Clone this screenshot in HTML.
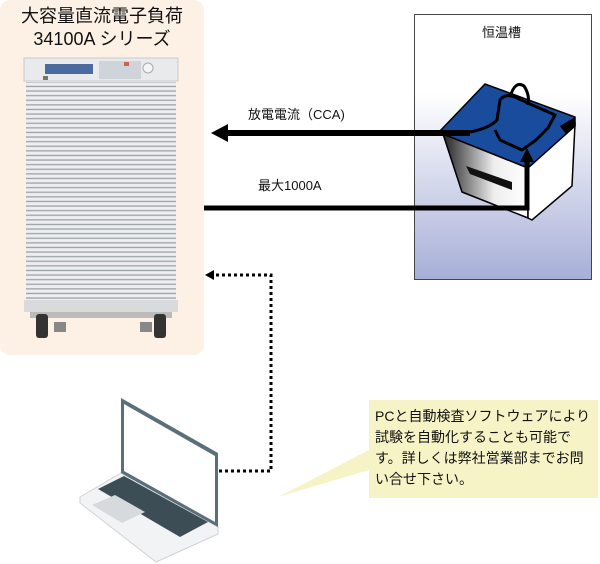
<!DOCTYPE html>
<html><head><meta charset="utf-8"><style>
html,body{margin:0;padding:0;background:#fff;}
body{width:600px;height:564px;position:relative;overflow:hidden;font-family:"Liberation Sans","Noto Sans CJK JP",sans-serif;}
.t{position:absolute;white-space:nowrap;color:#111;}
</style></head><body>
<svg width="600" height="564" style="position:absolute;left:0;top:0">
<defs>
<linearGradient id="ch" x1="0" y1="0" x2="0" y2="1">
<stop offset="0.3" stop-color="#ffffff"/><stop offset="1" stop-color="#a7afd8"/></linearGradient>
<linearGradient id="bf" x1="0" y1="0" x2="1" y2="0">
<stop offset="0" stop-color="#222"/><stop offset="0.6" stop-color="#eee"/><stop offset="1" stop-color="#fff"/></linearGradient>
<pattern id="vent" width="10" height="4.6" patternUnits="userSpaceOnUse">
<rect width="10" height="4.6" fill="#eceef0"/><rect y="3" width="10" height="1.3" fill="#9ea3a8"/></pattern>
</defs>
<rect x="0" y="0" width="204" height="355" rx="10" fill="#fdf1e6"/>
<rect x="24" y="58" width="154" height="23" fill="#e9eaec" stroke="#c9cbcf" stroke-width="1"/>
<rect x="45" y="64" width="48" height="10" fill="#4a6aa0"/>
<rect x="99" y="61" width="42" height="18" fill="#cfd4da"/>
<rect x="124" y="62" width="5" height="4" fill="#c64"/>
<circle cx="148" cy="68" r="5" fill="#f4f4f4" stroke="#aaa"/>
<rect x="43" y="76" width="5" height="4" fill="#776"/>
<rect x="26" y="82" width="150" height="218" fill="url(#vent)"/>
<rect x="24" y="300" width="154" height="12" fill="#d9dadc"/>
<rect x="30" y="312" width="142" height="6" fill="#bbb"/>
<rect x="36" y="314" width="12" height="24" rx="3" fill="#333"/>
<rect x="154" y="314" width="12" height="24" rx="3" fill="#333"/>
<rect x="54" y="322" width="12" height="10" fill="#888"/>
<rect x="140" y="322" width="12" height="10" fill="#888"/>
<rect x="414.5" y="14.5" width="177" height="265" fill="url(#ch)" stroke="#444" stroke-width="1"/>
<polygon points="443,134 528,168 528,218 462,192" fill="url(#bf)" stroke="#000" stroke-width="1.5"/>
<polygon points="466,166 512,182 512,190 470,174" fill="#111"/>
<polygon points="528,168 575,124 572,186 532,220 528,218" fill="#fff" stroke="#000" stroke-width="1.5"/>
<polygon points="440,131 485,84 575,117 575,126 528,168 443,134" fill="#1a4c9e" stroke="#000" stroke-width="1.5"/>
<path d="M470,132 Q490,128 497,120 L500,100 Q505,93 515,97 L530,104 L555,115 L548,128 L536,140 L522,150 L500,140 L495,130" fill="none" stroke="#000" stroke-width="3"/>
<path d="M510,97 Q515,80 524,86 Q530,95 528,105" fill="none" stroke="#000" stroke-width="3"/>
<polygon points="560,126 575,117 575,126 566,134" fill="#000"/>
<rect x="224" y="130" width="246" height="6" fill="#000"/>
<polygon points="211,133 228,124 228,142" fill="#000"/>
<polyline points="204,208 527,208 527,158" fill="none" stroke="#000" stroke-width="5"/>
<polygon points="527,148 520,162 534,162" fill="#000"/>
<polyline points="219,471 271,471 271,275 214,275" fill="none" stroke="#000" stroke-width="3" stroke-dasharray="3,3"/>
<polygon points="205,275 214,270 214,280" fill="#000"/>
<polygon points="369,400 598,400 598,498 369,498 369,470 278,497 369,450" fill="#f6f4c6"/>
<polygon points="80,497 121,473 218,527 218,534 156,562 80,503" fill="#f2f3f4" stroke="#d0d3d6" stroke-width="1"/>
<polygon points="98,489 124,476 208,522 180,537" fill="#3d4d56"/>
<polygon points="92,505 115,495 145,512 122,523" fill="#d7dadc"/>
<polygon points="121,398 218,453 218,527 121,473" fill="#5a6f7a"/>
<polygon points="124,404 215,456 215,522 124,471" fill="#fff"/>
</svg>
<div class="t" style="left:0;width:204px;text-align:center;top:5px;font-size:18px;line-height:23px;">大容量直流電子負荷<br>34100A シリーズ</div>
<div class="t" style="left:482px;top:22px;font-size:13px;">恒温槽</div>
<div class="t" style="left:248px;top:104px;font-size:13px;">放電電流（CCA)</div>
<div class="t" style="left:258px;top:175px;font-size:13px;">最大1000A</div>
<div class="t" style="left:375px;top:406px;font-size:14px;line-height:21px;">PCと自動検査ソフトウェアにより<br>試験を自動化することも可能で<br>す。詳しくは弊社営業部までお問<br>い合せ下さい。</div>
</body></html>
